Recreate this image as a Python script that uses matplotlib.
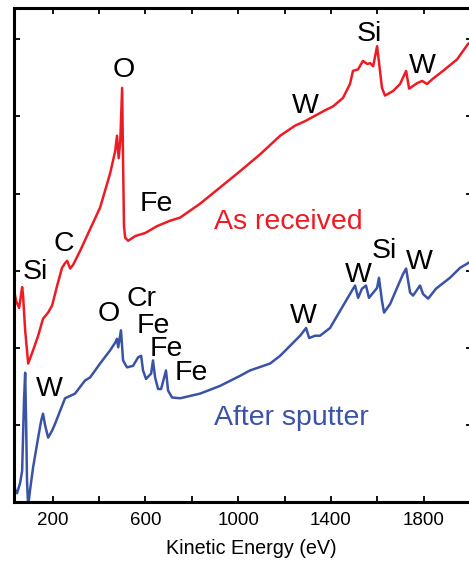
import numpy as np
import matplotlib.pyplot as plt
from matplotlib.ticker import FixedLocator, NullFormatter

# ============================================================
# DATA (arbitrary intensity units)
# ============================================================

red_energy = [30, 43, 56, 69, 73, 82, 95, 116, 138, 159, 181, 198, 220, 241, 254,
              263, 276, 289, 319, 362, 405, 448, 470, 478, 485, 492, 500, 504, 508,
              513, 526, 556, 599, 651, 707, 750, 793, 836, 922, 1008, 1095, 1181,
              1245, 1289, 1332, 1375, 1409, 1452, 1482, 1495, 1517, 1538, 1556,
              1569, 1582, 1599, 1620, 1633, 1668, 1698, 1724, 1737, 1771, 1793,
              1814, 1840, 1883, 1944, 1991, 2006]
red_counts = [2.81, 2.61, 2.52, 2.79, 2.68, 2.23, 1.80, 1.97, 2.16, 2.38, 2.46, 2.55,
              2.81, 3.04, 3.10, 3.13, 3.03, 3.08, 3.26, 3.54, 3.82, 4.26, 4.55, 4.75,
              4.46, 4.68, 5.37, 4.42, 3.58, 3.43, 3.39, 3.45, 3.49, 3.58, 3.65, 3.69,
              3.78, 3.87, 4.08, 4.29, 4.51, 4.75, 4.88, 4.94, 5.01, 5.08, 5.13, 5.24,
              5.42, 5.59, 5.61, 5.72, 5.68, 5.69, 5.65, 5.91, 5.37, 5.27, 5.33, 5.42,
              5.59, 5.36, 5.43, 5.46, 5.42, 5.49, 5.59, 5.74, 5.94, 5.97]

blue_energy = [30, 39, 47, 60, 69, 77, 82, 86, 90, 95, 103, 116, 138, 151, 159, 168,
               181, 198, 211, 233, 254, 297, 340, 362, 405, 448, 470, 478, 483, 495,
               504, 521, 547, 569, 582, 590, 603, 625, 633, 642, 655, 668, 689, 698,
               715, 750, 836, 922, 1008, 1051, 1138, 1181, 1224, 1267, 1293, 1306,
               1332, 1353, 1396, 1439, 1482, 1504, 1517, 1534, 1551, 1564, 1599,
               1607, 1620, 1629, 1655, 1685, 1711, 1724, 1741, 1754, 1784, 1797,
               1819, 1853, 1913, 1957, 1991, 2006]
blue_counts = [0.38, 0.16, 0.12, 0.25, 0.41, 1.32, 1.68, 1.06, 0.28, -0.05, 0.16, 0.45,
               0.84, 1.06, 1.15, 1.00, 0.84, 0.93, 1.02, 1.19, 1.35, 1.41, 1.58, 1.62,
               1.80, 1.97, 2.07, 2.12, 2.01, 2.23, 1.84, 1.75, 1.77, 1.88, 1.90, 1.71,
               1.60, 1.67, 1.84, 1.62, 1.47, 1.47, 1.71, 1.45, 1.36, 1.35, 1.41, 1.51,
               1.64, 1.71, 1.80, 1.90, 2.03, 2.16, 2.26, 2.13, 2.16, 2.16, 2.26, 2.48,
               2.70, 2.81, 2.65, 2.77, 2.81, 2.65, 2.78, 2.91, 2.61, 2.46, 2.57, 2.78,
               2.96, 3.03, 2.72, 2.68, 2.81, 2.70, 2.64, 2.77, 2.91, 3.04, 3.10, 3.13]

# peak labels: (text, energy, baseline height)
red_peaks = [("Si", 125, 2.90), ("C", 250, 3.26), ("O", 508, 5.51), ("Fe", 646, 3.78),
             ("W", 1289, 5.05), ("Si", 1564, 5.98), ("W", 1793, 5.56)]
blue_peaks = [("W", 185, 1.38), ("O", 444, 2.35), ("Cr", 582, 2.55), ("Fe", 633, 2.20),
              ("Fe", 689, 1.90), ("Fe", 797, 1.58), ("W", 1280, 2.32), ("W", 1517, 2.85),
              ("Si", 1629, 3.17), ("W", 1780, 3.03)]

RED = "#ED1C24"
BLUE = "#3A53A4"

plt.rcParams['font.family'] = ['Liberation Sans', 'DejaVu Sans']

# ============================================================
# PLOT
# ============================================================

fig = plt.figure(figsize=(4.69, 5.61), dpi=100)
ax = fig.add_axes([0.0299, 0.1043, 0.9755, 0.8815])

ax.plot(red_energy, red_counts, color=RED, lw=1.8)
ax.plot(blue_energy, blue_counts, color=BLUE, lw=1.8)

for txt, e, h in red_peaks + blue_peaks:
    ax.text(e, h, txt, ha='center', va='baseline', fontsize=20.5, color='black')

ax.text(1215, 3.54, "As received", ha='center', va='baseline', fontsize=20.5, color=RED)
ax.text(1228, 1.01, "After sputter", ha='center', va='baseline', fontsize=20.5, color=BLUE)

ax.set_xlim(34, 2006)
ax.set_ylim(0, 6.405)

ax.xaxis.set_major_locator(FixedLocator([200, 600, 1000, 1400, 1800]))
ax.xaxis.set_minor_locator(FixedLocator([400, 800, 1200, 1600, 2000]))
ax.yaxis.set_major_locator(FixedLocator([1, 2, 3, 4, 5, 6]))
ax.yaxis.set_major_formatter(NullFormatter())

ax.tick_params(which='both', direction='in', top=True, right=True,
               length=4.5, width=1.3, labelsize=13.5, pad=6.5)

for sp in ax.spines.values():
    sp.set_linewidth(2.2)

ax.set_xlabel("Kinetic Energy (eV)", fontsize=14.2)
ax.xaxis.set_label_coords(0.519, -0.073)

fig.savefig("out.png", dpi=100)
